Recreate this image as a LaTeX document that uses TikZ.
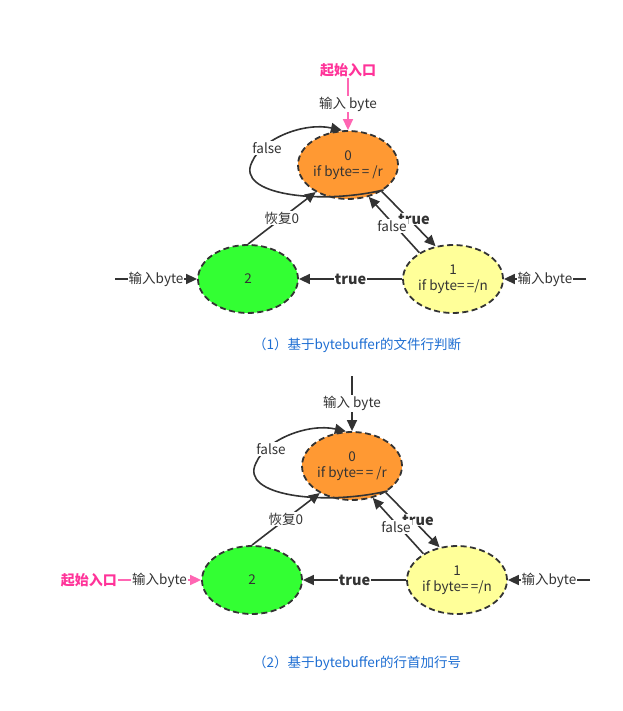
\documentclass[tikz,border=0pt]{standalone}
\usepackage{fontspec}
\setmainfont{Noto Sans CJK SC}
\usetikzlibrary{arrows.meta,shapes.geometric}
\definecolor{edgec}{HTML}{333333}
\definecolor{orangec}{HTML}{FF9933}
\definecolor{greenc}{HTML}{33FF33}
\definecolor{yellowc}{HTML}{FFFF99}
\definecolor{pinkc}{HTML}{FF66B3}
\definecolor{pinktext}{HTML}{FF3399}
\definecolor{capc}{HTML}{1E6ED2}
\tikzset{
  state/.style={ellipse, draw=edgec, line width=1.8pt, dash pattern=on 6pt off 3.5pt,
    minimum width=100pt, minimum height=68pt, inner sep=0pt, align=center,
    font=\fontsize{13.5}{16}\selectfont, text=edgec},
  conn/.style={draw=edgec, line width=1.6pt, -{Triangle[length=11pt,width=10pt]}},
  pinkconn/.style={draw=pinkc, line width=1.6pt, -{Triangle[length=11pt,width=10pt]}},
  lab/.style={fill=white, inner sep=1pt, text=edgec, font=\fontsize{13.5}{16}\selectfont},
  blab/.style={lab, font=\fontsize{14.5}{16}\selectfont\bfseries},
  starttext/.style={text=pinktext, font=\fontsize{14}{16}\selectfont\bfseries, inner sep=1pt},
  caption/.style={text=capc, font=\fontsize{13.5}{16}\selectfont}
}
\begin{document}
\begin{tikzpicture}[x=1pt,y=-1pt]
\useasboundingbox (0,0) rectangle (622,711);
% ---------- diagram 1 ----------
\node[state, fill=orangec] (a0) at (348,165) {0\\if byte=\,= /r};
\node[state, fill=yellowc] (a1) at (453,279) {1\\if byte=\,=/n};
\node[state, fill=greenc] (a2) at (248,279) {2};
\node[starttext] (as) at (348,70) {起始入口};
\draw[pinkconn] (as.south) -- (a0.north) node[lab, pos=0.5] {输入 byte};
\draw[conn] (a0.-35) .. controls (320,205) and (235,195) .. (252,162) .. controls (262,138) and (305,122) .. (a0.100);
\node[lab] at (267,148) {false};
\draw[conn] (a2.north) -- (a0.220) node[lab, midway] {恢复0};
\draw[conn] (a0.-38) -- (a1.118);
\node[blab] at (414,219) {true};
\draw[conn] (a1.142) -- (a0.-57);
\node[lab] at (392,226) {false};
\draw[conn] (a1.west) -- (a2.east) node[blab, midway] {true};
\coordinate (al) at (115,279);
\coordinate (ar) at (586,279);
\draw[conn] (al) -- (a2.west) node[lab, midway] {输入byte};
\draw[conn] (ar) -- (a1.east) node[lab, midway] {输入byte};
\node[caption] (cap1) at (357,345) {（1）基于bytebuffer的文件行判断};
% ---------- diagram 2 ----------
\node[state, fill=orangec] (b0) at (352,466) {0\\if byte=\,= /r};
\node[state, fill=yellowc] (b1) at (457,580) {1\\if byte=\,=/n};
\node[state, fill=greenc] (b2) at (252,580) {2};
\coordinate (bt) at (352,376);
\draw[conn] (bt) -- (b0.north) node[lab, pos=0.5] {输入 byte};
\draw[conn] (b0.-35) .. controls (324,506) and (239,496) .. (256,463) .. controls (266,439) and (309,423) .. (b0.100);
\node[lab] at (271,449) {false};
\draw[conn] (b2.north) -- (b0.220) node[lab, midway] {恢复0};
\draw[conn] (b0.-38) -- (b1.118);
\node[blab] at (418,520) {true};
\draw[conn] (b1.142) -- (b0.-57);
\node[lab] at (396,527) {false};
\draw[conn] (b1.west) -- (b2.east) node[blab, midway] {true};
\node[starttext, anchor=east] (bs) at (118,580) {起始入口};
\coordinate (br) at (590,580);
\draw[pinkconn] (bs.east) -- (b2.west) node[lab, pos=0.5] {输入byte};
\draw[conn] (br) -- (b1.east) node[lab, midway] {输入byte};
\node[caption] (cap2) at (357,663) {（2）基于bytebuffer的行首加行号};
\end{tikzpicture}
\end{document}
